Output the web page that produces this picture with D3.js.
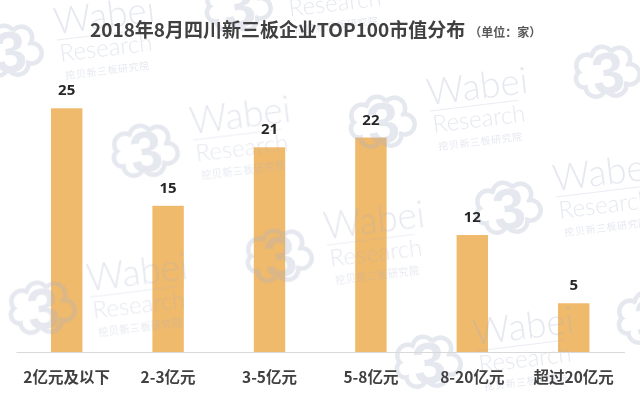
<!DOCTYPE html>
<html>
<head>
<meta charset="utf-8">
<script src="https://cdn.jsdelivr.net/npm/d3@7"></script>
<style>
  html, body { margin: 0; padding: 0; background: #fff; }
  svg { display: block; }
</style>
</head>
<body>
<div id="chart"></div>
<script>
// chart data
const categories = ["2亿元及以下", "2-3亿元", "3-5亿元", "5-8亿元", "8-20亿元", "超过20亿元"];
const counts = [25, 15, 21, 22, 12, 5];
const titleText = "2018年8月四川新三板企业TOP100市值分布";
const unitText = "（单位：家）";

// watermark spots (logo centres)
const markSpots = [[9, 51], [238, 6], [145, 151], [382, 122], [607, 72],
                   [279, 256], [508, 208], [42, 308], [428, 362], [650, 318]];

const W = 640, H = 399;
const svg = d3.select("#chart").append("svg")
    .attr("width", W)
    .attr("height", H);

svg.append("rect").attr("width", W).attr("height", H).attr("fill", "#fff");

// scales
const x = d3.scaleBand()
    .domain(categories)
    .range([16, 624.4])
    .paddingInner(0.69)
    .paddingOuter(0.345);

const y = d3.scaleLinear()
    .domain([0, d3.max(counts)])
    .range([352, 108.3]);

const data = categories.map((c, i) => ({ cat: c, value: counts[i] }));

// bars
svg.append("g")
  .selectAll("rect")
  .data(data)
  .enter()
  .append("rect")
    .attr("x", d => x(d.cat))
    .attr("y", d => y(d.value))
    .attr("width", x.bandwidth())
    .attr("height", d => y(0) - y(d.value))
    .attr("fill", "#F0BA6C");

// watermark layer (cloud logo + Wabei Research)
const defs = svg.append("defs");
const mask = defs.append("mask")
    .attr("id", "cloudRing")
    .attr("maskUnits", "userSpaceOnUse")
    .attr("maskContentUnits", "userSpaceOnUse")
    .attr("x", -60).attr("y", -60).attr("width", 120).attr("height", 120);
const bumps = [[-19, -9, 13], [-3, -15, 13], [14, -12, 13], [22, 5, 12.5],
               [7, 14, 13], [-13, 13, 12.5], [-23, 4, 11]];
mask.selectAll("circle.o").data(bumps).enter().append("circle")
    .attr("cx", d => d[0]).attr("cy", d => d[1]).attr("r", d => d[2])
    .attr("fill", "#fff");
mask.append("circle").attr("r", 20).attr("fill", "#fff");
mask.selectAll("circle.i").data(bumps).enter().append("circle")
    .attr("cx", d => d[0]).attr("cy", d => d[1]).attr("r", d => d[2] - 4.5)
    .attr("fill", "#000");
mask.append("circle").attr("r", 20).attr("fill", "#000");

const wm = svg.append("g").attr("opacity", 0.28);
const markColor = "#a4aec8";
const wmFont = "Lato, 'Open Sans', sans-serif";
markSpots.forEach(p => {
    const g = wm.append("g")
        .attr("transform", `translate(${p[0]},${p[1]}) rotate(-7)`);
    g.append("rect")
        .attr("x", -60).attr("y", -60).attr("width", 120).attr("height", 120)
        .attr("fill", markColor)
        .attr("mask", "url(#cloudRing)");
    g.append("text")
        .attr("x", 1).attr("y", 21)
        .attr("text-anchor", "middle")
        .attr("font-family", "'Liberation Sans', Arial, sans-serif")
        .attr("font-weight", "bold")
        .attr("font-size", 58)
        .attr("fill", markColor)
        .text("3");
    g.append("text")
        .attr("x", 48).attr("y", -11)
        .attr("font-family", wmFont)
        .attr("font-weight", 300)
        .attr("font-size", 37)
        .attr("fill", markColor)
        .text("Wabei");
    g.append("line")
        .attr("x1", 49).attr("x2", 138)
        .attr("y1", -5).attr("y2", -5)
        .attr("stroke", markColor)
        .attr("stroke-width", 0.8);
    g.append("text")
        .attr("x", 50).attr("y", 17)
        .attr("font-family", wmFont)
        .attr("font-weight", 300)
        .attr("font-size", 24)
        .attr("fill", markColor)
        .text("Research");
    g.append("text")
        .attr("x", 53).attr("y", 35)
        .attr("font-family", "'Noto Sans CJK SC', sans-serif")
        .attr("font-size", 10)
        .attr("letter-spacing", 0.6)
        .attr("fill", markColor)
        .text("挖贝新三板研究院");
});

// x axis: baseline + category labels
const xAxis = svg.append("g")
    .attr("transform", `translate(0,${y(0)})`)
    .call(d3.axisBottom(x).tickSize(0).tickPadding(20));
xAxis.select(".domain")
    .attr("stroke", "#d9d9d9")
    .attr("stroke-width", 1.2);
xAxis.selectAll("text")
    .attr("font-family", "'Noto Sans CJK SC', sans-serif")
    .attr("font-weight", "bold")
    .attr("font-size", 15.5)
    .attr("fill", "#404040");

// value labels
svg.append("g")
  .selectAll("text")
  .data(data)
  .enter()
  .append("text")
    .attr("x", d => x(d.cat) + x.bandwidth() / 2)
    .attr("y", d => y(d.value) - 13)
    .attr("text-anchor", "middle")
    .attr("font-family", "'Open Sans', 'Noto Sans', sans-serif")
    .attr("font-weight", "bold")
    .attr("font-size", 15)
    .attr("fill", "#262626")
    .text(d => d.value);

// title
const title = svg.append("text")
    .attr("x", 90)
    .attr("y", 37)
    .attr("font-family", "'Noto Sans CJK SC', sans-serif")
    .attr("font-weight", "bold")
    .attr("font-size", 19)
    .attr("fill", "#404040");
title.append("tspan").text(titleText);
title.append("tspan")
    .attr("dx", 4)
    .attr("font-size", 12)
    .attr("font-weight", "bold")
    .attr("fill", "#595959")
    .text(unitText);
</script>
</body>
</html>
